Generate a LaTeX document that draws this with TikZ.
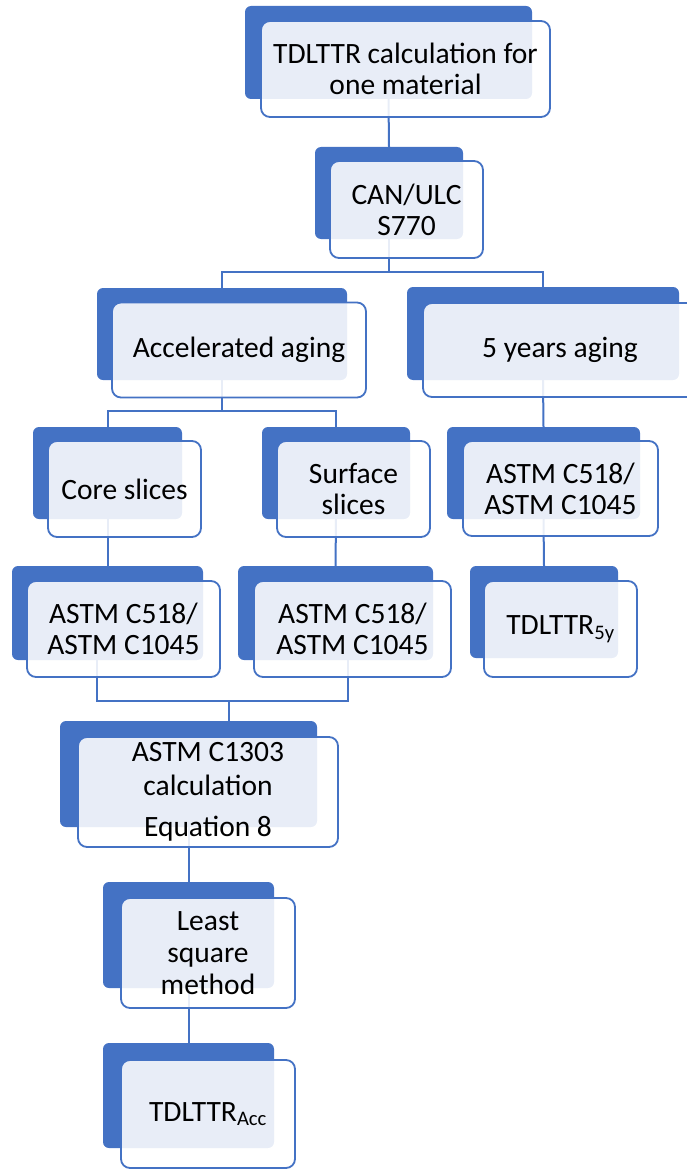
\documentclass[tikz,border=0pt]{standalone}
\usepackage{fontspec}
\setmainfont{Carlito}
\definecolor{myblue}{HTML}{4472C4}
\pgfdeclarelayer{bg}
\pgfsetlayers{bg,main}
\tikzset{
  backbox/.style={fill=myblue, rounded corners=6pt, inner sep=0pt, outer sep=0pt},
  frontbox/.style={draw=myblue, line width=1.8pt, fill=white, fill opacity=0.88, text opacity=1,
    rounded corners=9pt, inner sep=0pt, outer sep=0pt, align=center, font=\fontsize{29.5}{31}\selectfont},
  link/.style={draw=myblue, line width=2pt}
}
\begin{document}
\begin{tikzpicture}[x=1pt, y=-1pt]
\useasboundingbox (0,0) rectangle (687,1169);
\clip (0,0) rectangle (687,1169);
% boxes
\node[backbox, minimum width=287pt, minimum height=93pt] (topb) at (388.5,52.5) {};
\node[frontbox, minimum width=289pt, minimum height=96pt] (top) at (405.5,69) {TDLTTR calculation for\\one material};

\node[backbox, minimum width=148pt, minimum height=92pt] (canb) at (389,193) {};
\node[frontbox, minimum width=153pt, minimum height=97pt] (can) at (406.5,209.5) {CAN/ULC\\S770};

\node[backbox, minimum width=250pt, minimum height=92pt] (accb) at (222,334) {};
\node[frontbox, minimum width=254pt, minimum height=95pt] (acc) at (239,350) {Accelerated aging};

\node[backbox, minimum width=272pt, minimum height=93pt] (fiveb) at (543,333.5) {};
\node[frontbox, minimum width=274pt, minimum height=94pt] (five) at (560,350) {5 years aging};

\node[backbox, minimum width=149pt, minimum height=92pt] (coreb) at (107.5,473) {};
\node[frontbox, minimum width=153pt, minimum height=96pt] (core) at (124.5,489) {Core slices};

\node[backbox, minimum width=148pt, minimum height=92pt] (surfb) at (336,473) {};
\node[frontbox, minimum width=153pt, minimum height=96pt] (surf) at (353.5,489) {Surface\\slices};

\node[backbox, minimum width=193pt, minimum height=92pt] (astmRb) at (543.5,473) {};
\node[frontbox, minimum width=195pt, minimum height=95pt] (astmR) at (560.5,488.5) {ASTM C518/\\ASTM C1045};

\node[backbox, minimum width=191pt, minimum height=94pt] (astmLb) at (107.5,613) {};
\node[frontbox, minimum width=193pt, minimum height=96pt] (astmL) at (123.5,629) {ASTM C518/\\ASTM C1045};

\node[backbox, minimum width=195pt, minimum height=94pt] (astmMb) at (335.5,613) {};
\node[frontbox, minimum width=197pt, minimum height=96pt] (astmM) at (352.5,629) {ASTM C518/\\ASTM C1045};

\node[backbox, minimum width=148pt, minimum height=92pt] (tfiveb) at (544,612) {};
\node[frontbox, minimum width=153pt, minimum height=96pt] (tfive) at (560.5,629) {TDLTTR\textsubscript{5y}};

\node[backbox, minimum width=257pt, minimum height=106pt] (cb) at (188.5,774) {};
\node[frontbox, minimum width=260pt, minimum height=110pt, font=\fontsize{29.5}{34}\selectfont] (c) at (208,792) {ASTM C1303\\calculation\\[7pt]Equation 8};

\node[backbox, minimum width=171pt, minimum height=106pt] (lsqb) at (188.5,935) {};
\node[frontbox, minimum width=174pt, minimum height=110pt, font=\fontsize{29.5}{32}\selectfont] (lsq) at (208,953) {Least\\square\\method};

\node[backbox, minimum width=171pt, minimum height=105pt] (taccb) at (188.5,1095.5) {};
\node[frontbox, minimum width=174pt, minimum height=108pt] (tacc) at (208,1114) {TDLTTR\textsubscript{Acc}};

% connectors (behind the boxes)
\begin{pgfonlayer}{bg}
\coordinate (bus1) at (389,272);
\coordinate (bus2) at (222,411);
\coordinate (bus3) at (229,701);
\draw[link] (topb.south) -- (canb.north);
\draw[link] (canb.south) -- (bus1);
\draw[link] (accb.north) |- (bus1) -| (fiveb.north);
\draw[link] (accb.south) -- (bus2);
\draw[link] (coreb.north) |- (bus2) -| (surfb.north);
\draw[link] (fiveb.south) -- (astmRb.north);
\draw[link] (coreb.south) -- (astmLb.north);
\draw[link] (surfb.south) -- (astmMb.north);
\draw[link] (astmRb.south) -- (tfiveb.north);
\draw[link] ([xshift=-10.5pt]astmLb.south) |- (bus3) -| ([xshift=12.5pt]astmMb.south);
\draw[link] (bus3) -- (cb.north -| bus3);
\draw[link] (cb.south) -- (lsqb.north);
\draw[link] (lsqb.south) -- (taccb.north);
\end{pgfonlayer}
\end{tikzpicture}
\end{document}
